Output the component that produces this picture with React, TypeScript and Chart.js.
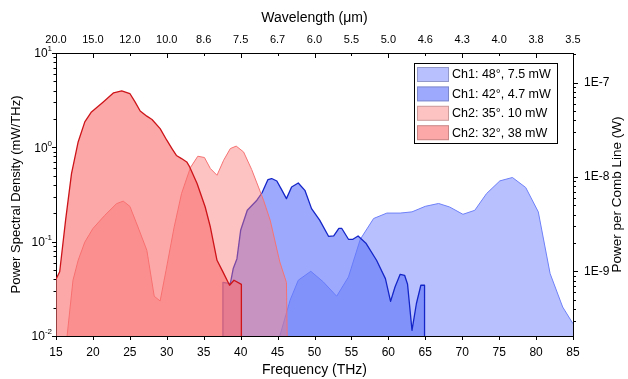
import React, { useEffect, useRef } from "react";
import { Chart, registerables } from "chart.js";

Chart.register(...registerables);

const FONT = '"Liberation Sans", Arial, Helvetica, sans-serif';

// ---- axis ticks / labels ----
const freqTicks = [15, 20, 25, 30, 35, 40, 45, 50, 55, 60, 65, 70, 75, 80, 85];
const wavelengthLabels = ["20.0", "15.0", "12.0", "10.0", "8.6", "7.5", "6.7", "6.0", "5.5", "5.0", "4.6", "4.3", "4.0", "3.8", "3.5"];
const psdTickValues = [0.01, 0.1, 1, 10];
const psdTickExponents = ["-2", "-1", "0", "1"];
const combTickValues = [1e-9, 1e-8, 1e-7];
const combTickLabels = ["1E-9", "1E-8", "1E-7"];

const PSD_MIN = 0.01;
const PSD_MAX = 10;
const COMB_MIN = 2.066e-10;
const COMB_MAX = 2.066e-7;

// ---- series ----
const seriesLabels = ["Ch1: 48°, 7.5 mW", "Ch1: 42°, 4.7 mW", "Ch2: 35°. 10 mW", "Ch2: 32°, 38 mW"];

const ch1_48_freq = [45.3, 46.7, 47.8, 49.5, 51.2, 53.0, 54.6, 56.2, 58.0, 59.8, 61.6, 63.2, 65.0, 66.8, 68.3, 70.1, 71.7, 73.3, 75.1, 76.8, 78.6, 80.3, 81.9, 83.6, 85.0];
const ch1_48_psd = [0.01, 0.024, 0.039, 0.0485, 0.0374, 0.0264, 0.0423, 0.106, 0.176, 0.201, 0.201, 0.207, 0.237, 0.254, 0.233, 0.195, 0.215, 0.324, 0.441, 0.479, 0.375, 0.207, 0.0459, 0.0203, 0.0135];

const ch1_42_freq = [37.6, 37.6, 38.6, 39.0, 39.5, 40.0, 40.9, 42.2, 42.9, 43.7, 44.2, 44.9, 45.6, 46.2, 46.9, 47.8, 48.7, 49.6, 50.7, 51.9, 52.6, 53.3, 53.7, 54.6, 55.2, 55.9, 57.0, 58.4, 59.6, 60.3, 60.9, 61.6, 62.2, 62.6, 63.2, 63.8, 64.4, 64.9, 64.9];
const ch1_42_psd = [0.01, 0.037, 0.036, 0.052, 0.066, 0.132, 0.215, 0.275, 0.33, 0.456, 0.467, 0.44, 0.35, 0.286, 0.38, 0.419, 0.35, 0.224, 0.169, 0.114, 0.115, 0.138, 0.138, 0.106, 0.106, 0.115, 0.0955, 0.0635, 0.0406, 0.0233, 0.0331, 0.0451, 0.044, 0.0353, 0.0115, 0.0221, 0.0345, 0.0345, 0.01];

const ch2_35_freq = [16.5, 17.3, 18.0, 18.9, 20.0, 21.6, 23.2, 24.1, 25.0, 26.1, 27.3, 28.3, 29.1, 29.9, 31.0, 32.0, 33.2, 34.2, 35.1, 35.9, 36.8, 37.7, 38.6, 39.4, 40.4, 41.5, 43.1, 44.0, 45.3, 46.2, 46.3];
const ch2_35_psd = [0.01, 0.039, 0.0635, 0.099, 0.138, 0.19, 0.253, 0.269, 0.237, 0.143, 0.081, 0.0264, 0.0235, 0.0498, 0.143, 0.324, 0.61, 0.805, 0.78, 0.596, 0.506, 0.73, 0.97, 1.03, 0.893, 0.58, 0.275, 0.169, 0.061, 0.037, 0.01];

const ch2_32_freq = [15.0, 15.5, 16.3, 17.1, 18.0, 18.9, 19.8, 21.4, 22.8, 23.9, 25.0, 25.7, 26.4, 27.3, 28.0, 29.1, 30.0, 30.7, 31.3, 32.0, 32.7, 33.1, 34.1, 35.2, 35.9, 36.8, 37.6, 38.5, 39.1, 40.1, 40.1];
const ch2_32_psd = [0.04, 0.048, 0.169, 0.527, 1.14, 1.86, 2.37, 3.03, 3.78, 3.96, 3.72, 3.03, 2.43, 2.14, 1.97, 1.58, 1.19, 0.97, 0.82, 0.76, 0.70, 0.62, 0.413, 0.233, 0.143, 0.0635, 0.0478, 0.0345, 0.039, 0.0353, 0.01];

const seriesFreqs = [ch1_48_freq, ch1_42_freq, ch2_35_freq, ch2_32_freq];
const seriesPsds = [ch1_48_psd, ch1_42_psd, ch2_35_psd, ch2_32_psd];

const seriesStyles = [
  { border: "rgb(110,128,248)", fill: "rgba(100,120,250,0.46)", width: 1, order: 4 },
  { border: "rgb(20,38,200)", fill: "rgba(100,120,250,0.64)", width: 1.3, order: 3 },
  { border: "rgb(245,115,115)", fill: "rgba(250,120,120,0.45)", width: 1, order: 2 },
  { border: "rgb(205,20,25)", fill: "rgba(250,110,110,0.6)", width: 1.3, order: 1 },
];

const decorPlugin = {
  id: "decor",
  afterDraw(chart: any) {
    const { ctx, chartArea: a, scales } = chart;
    const xs = scales.x;
    const ys = scales.y;
    const ys2 = scales.y2;
    ctx.save();
    ctx.strokeStyle = "#000";
    ctx.lineWidth = 1;
    const line = (x1: number, y1: number, x2: number, y2: number) => {
      ctx.beginPath();
      ctx.moveTo(x1, y1);
      ctx.lineTo(x2, y2);
      ctx.stroke();
    };
    // bottom (outward) and top (inward) ticks
    freqTicks.forEach((f) => {
      const px = Math.round(xs.getPixelForValue(f)) + 0.5;
      line(px, a.bottom, px, a.bottom + 4);
      const major = f % 10 === 0;
      line(px, a.top, px, a.top + (major ? 5 : 3));
    });
    // left ticks (outward)
    for (let e = -2; e <= 1; e++) {
      for (let m = 1; m <= 9; m++) {
        const v = m * Math.pow(10, e);
        if (v < PSD_MIN * 0.999 || v > PSD_MAX * 1.001) continue;
        const py = Math.round(ys.getPixelForValue(v)) + 0.5;
        line(a.left - (m === 1 ? 4 : 2.5), py, a.left, py);
      }
    }
    // right ticks (outward)
    for (let e = -10; e <= -7; e++) {
      for (let m = 1; m <= 9; m++) {
        const v = m * Math.pow(10, e);
        if (v < COMB_MIN || v > COMB_MAX) continue;
        const py = Math.round(ys2.getPixelForValue(v)) + 0.5;
        line(a.right, py, a.right + (m === 1 ? 5 : 3), py);
      }
    }
    // left tick labels 10^n
    ctx.fillStyle = "#000";
    ctx.textBaseline = "middle";
    psdTickValues.forEach((v, i) => {
      const py = ys.getPixelForValue(v);
      const exp = psdTickExponents[i];
      ctx.font = `8px ${FONT}`;
      const ew = ctx.measureText(exp).width;
      const right = a.left - 4;
      ctx.textAlign = "left";
      ctx.fillText(exp, right - ew, py - 4);
      ctx.font = `12px ${FONT}`;
      ctx.textAlign = "right";
      ctx.fillText("10", right - ew, py + 1);
    });
    // right axis title (reads bottom to top)
    ctx.save();
    ctx.translate(617, (a.top + a.bottom) / 2);
    ctx.rotate(-Math.PI / 2);
    ctx.textAlign = "center";
    ctx.textBaseline = "middle";
    ctx.font = `13.5px ${FONT}`;
    ctx.fillText("Power per Comb Line (W)", 0, 0);
    ctx.restore();
    // legend
    const lx = a.right - 159;
    const ly = a.top + 10;
    const lw = 143;
    const lh = 80;
    ctx.fillStyle = "#fff";
    ctx.fillRect(lx, ly, lw, lh);
    ctx.strokeStyle = "#000";
    ctx.strokeRect(Math.round(lx) + 0.5, Math.round(ly) + 0.5, lw, lh);
    ctx.font = `12.5px ${FONT}`;
    ctx.textAlign = "left";
    ctx.textBaseline = "middle";
    chart.data.datasets.forEach((ds: any, i: number) => {
      const sy = ly + 4 + i * 19.4;
      ctx.fillStyle = ds.backgroundColor;
      ctx.fillRect(lx + 3, sy, 32, 15);
      ctx.strokeStyle = "rgba(0,0,0,0.2)";
      ctx.strokeRect(lx + 3.5, sy + 0.5, 31, 14);
      ctx.fillStyle = "#000";
      ctx.fillText(ds.label, lx + 38, sy + 8);
    });
    ctx.restore();
  },
};

export default function App() {
  const ref = useRef<HTMLCanvasElement | null>(null);
  useEffect(() => {
    if (!ref.current) return;
    const datasets = seriesLabels.map((label, i) => ({
      label,
      data: seriesFreqs[i].map((f, j) => ({ x: f, y: seriesPsds[i][j] })),
      borderColor: seriesStyles[i].border,
      backgroundColor: seriesStyles[i].fill,
      borderWidth: seriesStyles[i].width,
      fill: "start",
      pointRadius: 0,
      tension: 0,
      borderJoinStyle: "round",
      order: seriesStyles[i].order,
    }));
    const chart = new Chart(ref.current, {
      type: "line",
      data: { datasets } as any,
      options: {
        animation: false,
        responsive: true,
        maintainAspectRatio: false,
        layout: { padding: 0 },
        plugins: { legend: { display: false }, tooltip: { enabled: false } },
        scales: {
          x: {
            type: "linear",
            position: "bottom",
            min: 15,
            max: 85,
            afterBuildTicks: (s: any) => {
              s.ticks = freqTicks.map((v) => ({ value: v }));
            },
            afterFit: (s: any) => {
              s.height = 43;
            },
            grid: { display: false, drawTicks: false },
            border: { display: true, color: "#000", width: 1 },
            ticks: { autoSkip: false, maxRotation: 0, padding: 9, color: "#000", font: { family: FONT, size: 12 } },
            title: { display: true, text: "Frequency (THz)", color: "#000", font: { family: FONT, size: 14 }, padding: { top: 0, bottom: 0 } },
          },
          x2: {
            type: "linear",
            position: "top",
            min: 15,
            max: 85,
            afterBuildTicks: (s: any) => {
              s.ticks = freqTicks.map((v) => ({ value: v }));
            },
            afterFit: (s: any) => {
              s.height = 53;
            },
            grid: { display: false, drawTicks: false },
            border: { display: true, color: "#000", width: 1 },
            ticks: {
              autoSkip: false,
              maxRotation: 0,
              padding: 6,
              color: "#000",
              font: { family: FONT, size: 11 },
              callback: (_v: any, i: number) => wavelengthLabels[i],
            },
            title: { display: true, text: "Wavelength (μm)", color: "#000", font: { family: FONT, size: 14 }, padding: { top: 10, bottom: 0 } },
          },
          y: {
            type: "logarithmic",
            position: "left",
            min: PSD_MIN,
            max: PSD_MAX,
            afterFit: (s: any) => {
              s.width = 56;
            },
            grid: { display: false, drawTicks: false },
            border: { display: true, color: "#000", width: 1 },
            ticks: { display: false },
            title: { display: true, text: "Power Spectral Density (mW/THz)", color: "#000", font: { family: FONT, size: 13 }, padding: { top: 9, bottom: 0 } },
          },
          y2: {
            type: "logarithmic",
            position: "right",
            min: COMB_MIN,
            max: COMB_MAX,
            afterBuildTicks: (s: any) => {
              s.ticks = combTickValues.map((v) => ({ value: v }));
            },
            afterFit: (s: any) => {
              s.width = 55;
            },
            grid: { display: false, drawTicks: false },
            border: { display: true, color: "#000", width: 1 },
            ticks: {
              autoSkip: false,
              padding: 11,
              color: "#000",
              font: { family: FONT, size: 12 },
              callback: (_v: any, i: number) => combTickLabels[i],
            },
          },
        },
      } as any,
      plugins: [decorPlugin],
    });
    return () => chart.destroy();
  }, []);
  return (
    <div style={{ position: "fixed", left: 0, top: 0, width: 628, height: 379, background: "#fff" }}>
      <canvas ref={ref} />
    </div>
  );
}
